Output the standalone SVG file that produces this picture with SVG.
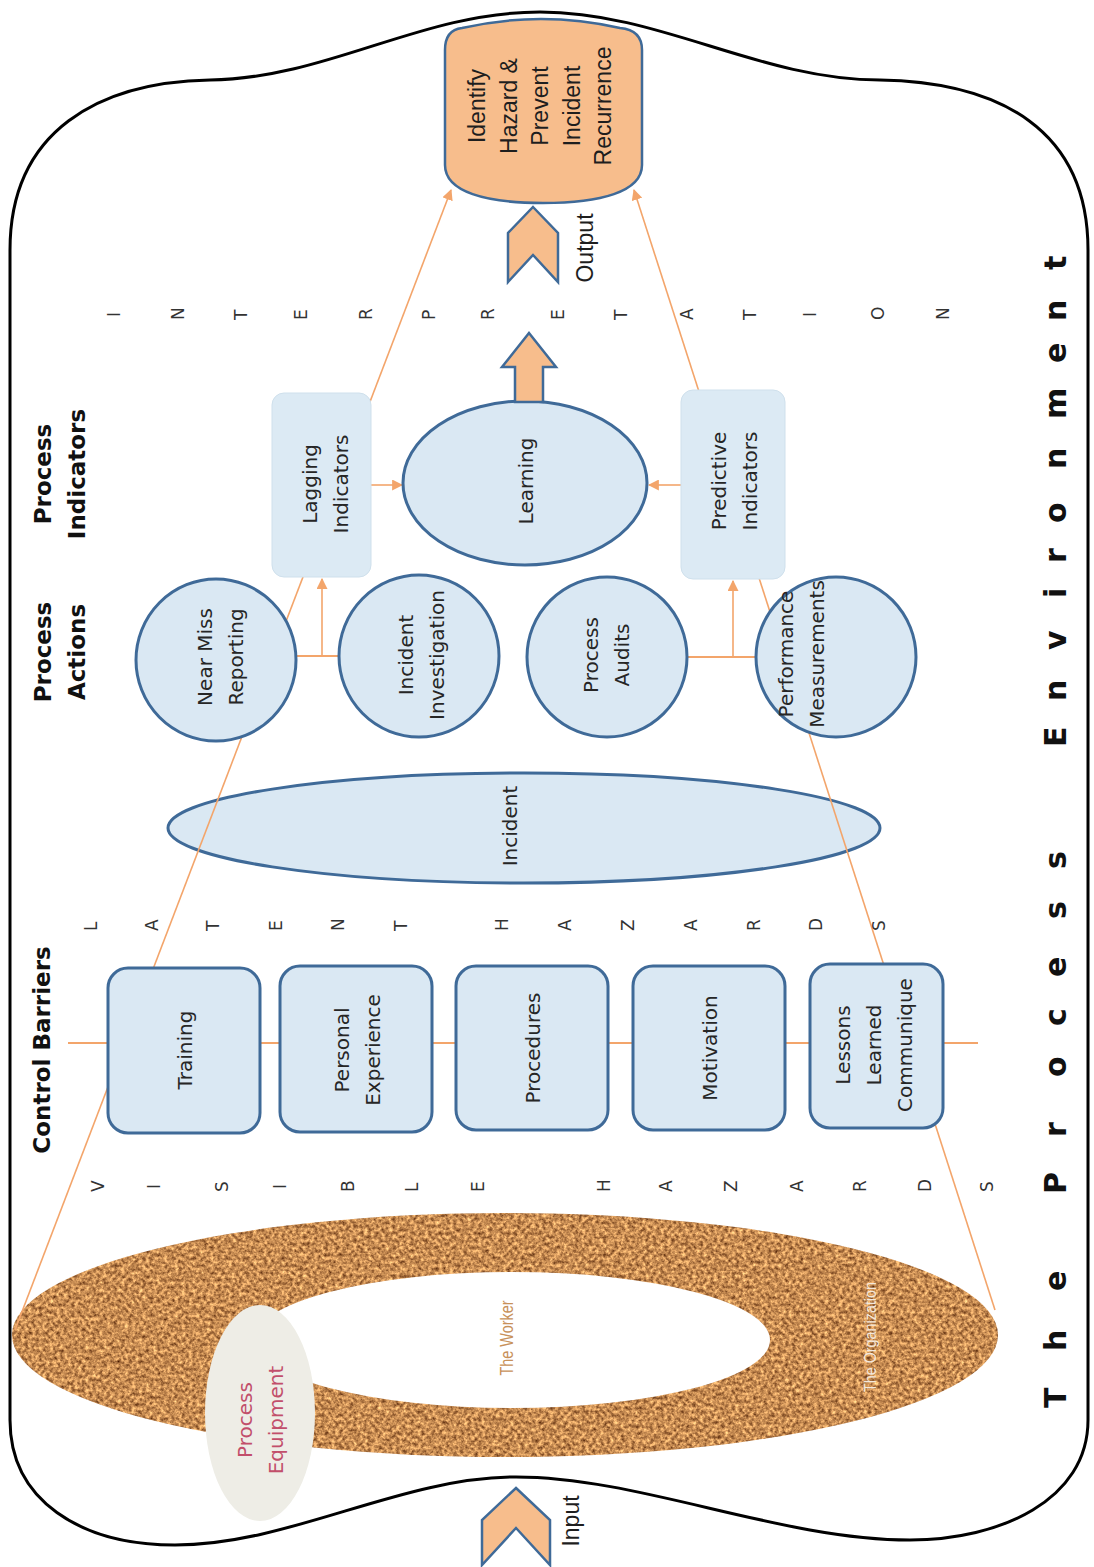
<svg xmlns="http://www.w3.org/2000/svg" width="1094" height="1567" viewBox="0 0 1094 1567">
  <style>
    .node { fill: #DAE8F3; stroke: #3F6A98; stroke-width: 3; }
    .ind { fill: #DCEAF4; stroke: #CFE0EC; stroke-width: 1; }
    .org { fill: #F7BD8C; stroke: #3F6A98; stroke-width: 2.5; stroke-linejoin: miter; }
    .lbl { font-family: "DejaVu Sans", Verdana, sans-serif; font-size: 20px; fill: #262626; text-anchor: middle; }
    .hd { font-family: "DejaVu Sans", Verdana, sans-serif; font-size: 23px; font-weight: bold; fill: #111; text-anchor: middle; }
    .cal { font-family: "Liberation Sans", Arial, sans-serif; font-size: 23px; fill: #1e1e1e; text-anchor: middle; }
    .ltr { font-family: "DejaVu Sans", Verdana, sans-serif; font-size: 17px; fill: #333; }
    .env { font-family: "DejaVu Sans", Verdana, sans-serif; font-size: 30px; font-weight: bold; fill: #111; }
    .wire { stroke: #F3A56B; stroke-width: 1.6; fill: none; }
    .bar { stroke: #F3A56B; stroke-width: 2.2; fill: none; }
  </style>
  <defs>
    <marker id="ah" viewBox="0 0 10 10" refX="9" refY="5" markerWidth="11" markerHeight="11" markerUnits="userSpaceOnUse" orient="auto">
      <path d="M0,0 L10,5 L0,10 z" fill="#F3A56B"/>
    </marker>
    <!-- speckled cork look for the organisation ring -->
    <filter id="cork" x="0" y="0" width="100%" height="100%" color-interpolation-filters="sRGB">
      <feTurbulence type="fractalNoise" baseFrequency="0.28" numOctaves="4" seed="7" result="n"/>
      <feColorMatrix in="n" type="matrix" values="1.0 0 0 0 0.28  0.9 0 0 0 0.1  0.65 0 0 0 0.0  0 0 0 0 1" result="c"/>
      <feComposite in="c" in2="SourceAlpha" operator="in"/>
    </filter>
  </defs>

  <rect width="1094" height="1567" fill="#ffffff"/>

  <!-- process environment boundary -->
  <g id="environment">
    <path d="M10,250 C10,130 100,82 210,80 C330,78 420,12 540,12 C660,12 760,80 880,80 C1000,82 1088,130 1088,250 L1088,1420 C1088,1500 1000,1540 910,1540 C780,1540 640,1477 516,1477 C400,1477 290,1545 175,1545 C80,1545 10,1500 10,1420 Z" fill="none" stroke="#000" stroke-width="3"/>
  </g>

  <!-- organisation / worker ring -->
  <g id="organization">
    <path d="M12,1335 a493,122 0 1,0 986,0 a493,122 0 1,0 -986,0 Z M254,1340 a258,68 0 1,0 516,0 a258,68 0 1,0 -516,0 Z" fill="#C8915C" fill-rule="evenodd" filter="url(#cork)"/>
    <text transform="translate(507,1338) rotate(-90)" text-anchor="middle" y="6" font-family="Liberation Sans, Arial, sans-serif" font-size="18" fill="#C8915A" textLength="75" lengthAdjust="spacingAndGlyphs">The Worker</text>
    <text transform="translate(870,1337) rotate(-90)" text-anchor="middle" y="6" font-family="Liberation Sans, Arial, sans-serif" font-size="17" fill="#F3E8DC" textLength="110" lengthAdjust="spacingAndGlyphs">The Organization</text>
  </g>

  <g id="process-equipment">
    <ellipse cx="260" cy="1413" rx="55" ry="108" fill="#EEEDE6"/>
    <text transform="translate(260,1420) rotate(-90)" text-anchor="middle" font-family="DejaVu Sans, Verdana, sans-serif" font-size="20" fill="#C24F6B"><tspan x="0" y="-8.5">Process</tspan><tspan x="0" y="22.5">Equipment</tspan></text>
  </g>

  <g id="incident">
    <ellipse class="node" cx="524" cy="828" rx="356" ry="55"/>
    <text class="lbl" transform="translate(510,826) rotate(-90)" y="7">Incident</text>
  </g>

  <!-- connectors -->
  <g id="connectors">
    <line class="wire" x1="15" y1="1330" x2="451" y2="190" marker-end="url(#ah)"/>
    <line class="wire" x1="995" y1="1310" x2="634" y2="190" marker-end="url(#ah)"/>
    <line class="bar" x1="68" y1="1043" x2="978" y2="1043"/>
    <line class="bar" x1="295" y1="656" x2="340" y2="656"/>
    <line class="wire" x1="322" y1="656" x2="322" y2="579" marker-end="url(#ah)"/>
    <line class="bar" x1="686" y1="657" x2="757" y2="657"/>
    <line class="wire" x1="733" y1="657" x2="733" y2="581" marker-end="url(#ah)"/>
    <line class="wire" x1="371" y1="485" x2="402" y2="485" marker-end="url(#ah)"/>
    <line class="wire" x1="681" y1="485" x2="649" y2="485" marker-end="url(#ah)"/>
  </g>

  <!-- control barriers -->
  <g id="training">
    <rect class="node" x="108" y="968" width="152" height="165" rx="20"/>
    <text class="lbl" transform="translate(185,1050) rotate(-90)" y="7">Training</text>
  </g>
  <g id="personal-experience">
    <rect class="node" x="280" y="966" width="152" height="166" rx="20"/>
    <text class="lbl" transform="translate(357,1050) rotate(-90)"><tspan x="0" y="-8.5">Personal</tspan><tspan x="0" y="22.5">Experience</tspan></text>
  </g>
  <g id="procedures">
    <rect class="node" x="456" y="966" width="152" height="164" rx="20"/>
    <text class="lbl" transform="translate(533,1048) rotate(-90)" y="7">Procedures</text>
  </g>
  <g id="motivation">
    <rect class="node" x="633" y="966" width="152" height="164" rx="20"/>
    <text class="lbl" transform="translate(710,1048) rotate(-90)" y="7">Motivation</text>
  </g>
  <g id="lessons-learned">
    <rect class="node" x="810" y="964" width="133" height="164" rx="20"/>
    <text class="lbl" transform="translate(874,1045) rotate(-90)"><tspan x="0" y="-24">Lessons</tspan><tspan x="0" y="7">Learned</tspan><tspan x="0" y="38">Communique</tspan></text>
  </g>

  <!-- process actions -->
  <g id="near-miss">
    <ellipse class="node" cx="216" cy="660" rx="80" ry="81"/>
    <text class="lbl" transform="translate(220,657) rotate(-90)"><tspan x="0" y="-8.5">Near Miss</tspan><tspan x="0" y="22.5">Reporting</tspan></text>
  </g>
  <g id="incident-investigation">
    <ellipse class="node" cx="419" cy="656" rx="80" ry="81"/>
    <text class="lbl" transform="translate(421,655) rotate(-90)"><tspan x="0" y="-8.5">Incident</tspan><tspan x="0" y="22.5">Investigation</tspan></text>
  </g>
  <g id="process-audits">
    <ellipse class="node" cx="607" cy="657" rx="80" ry="80"/>
    <text class="lbl" transform="translate(606,655) rotate(-90)"><tspan x="0" y="-8.5">Process</tspan><tspan x="0" y="22.5">Audits</tspan></text>
  </g>
  <g id="performance">
    <ellipse class="node" cx="836" cy="657" rx="80" ry="80"/>
    <text class="lbl" transform="translate(801,654) rotate(-90)"><tspan x="0" y="-8.5">Performance</tspan><tspan x="0" y="22.5">Measurements</tspan></text>
  </g>

  <!-- process indicators -->
  <g id="lagging">
    <rect class="ind" x="272" y="393" width="99" height="184" rx="12"/>
    <text class="lbl" transform="translate(325,484) rotate(-90)"><tspan x="0" y="-8.5">Lagging</tspan><tspan x="0" y="22.5">Indicators</tspan></text>
  </g>
  <g id="predictive">
    <rect class="ind" x="681" y="390" width="104" height="189" rx="12"/>
    <text class="lbl" transform="translate(734,481) rotate(-90)"><tspan x="0" y="-8.5">Predictive</tspan><tspan x="0" y="22.5">Indicators</tspan></text>
  </g>
  <g id="learning">
    <ellipse class="node" cx="525" cy="483" rx="122" ry="82"/>
    <text class="lbl" transform="translate(526,481) rotate(-90)" y="7">Learning</text>
  </g>
  <g id="learning-arrow">
    <polygon class="org" points="529,333 556,367 543,367 543,402 515,402 515,367 502,367"/>
  </g>

  <!-- output -->
  <g id="outcome">
    <path class="org" d="M445,50 Q445,30 462,28 Q541,10 620,28 Q642,30 642,50 L642,165 C642,192 600,203 543,203 C486,203 445,192 445,165 Z"/>
    <text class="cal" transform="translate(540,106) rotate(-90)"><tspan x="0" y="-55">Identify</tspan><tspan x="0" y="-23.5">Hazard &amp;</tspan><tspan x="0" y="8">Prevent</tspan><tspan x="0" y="39.5">Incident</tspan><tspan x="0" y="71">Recurrence</tspan></text>
  </g>
  <g id="output-arrow">
    <polygon class="org" points="533,207 558,233 558,282 533,255 508,282 508,233"/>
    <text class="cal" transform="translate(585,248) rotate(-90)" y="8">Output</text>
  </g>
  <g id="input-arrow">
    <polygon class="org" points="516,1488 550,1520 550,1565 516,1528 482,1565 482,1520"/>
    <text class="cal" transform="translate(571,1521) rotate(-90)" y="8">Input</text>
  </g>

  <!-- column headings -->
  <g id="headings">
    <text class="hd" transform="translate(60,474) rotate(-90)"><tspan x="0" y="-9">Process</tspan><tspan x="0" y="25">Indicators</tspan></text>
    <text class="hd" transform="translate(60,652) rotate(-90)"><tspan x="0" y="-9">Process</tspan><tspan x="0" y="25">Actions</tspan></text>
    <text class="hd" transform="translate(42,1050) rotate(-90)" y="8">Control Barriers</text>
  </g>

  <!-- spaced letter rows -->
  <g id="letter-rows">
    <text class="ltr" rotate="-90" x="120 184 247 307 372 435 494 564 627 693 756 816 884 949" y="317 320 320 320 320 320 320 320 320 320 320 317 320 320">INTERPRETATION</text>
    <text class="ltr" rotate="-90" x="97 158 219 282 344 407 508 571 634 697 760 822 885" y="931 931 931 931 931 931 931 931 931 931 931 931 931">LATENTHAZARDS</text>
    <text class="ltr" rotate="-90" x="104 160 228 286 354 418 484 610 672 737 803 866 931 993" y="1192 1189 1192 1189 1192 1192 1192 1192 1192 1192 1192 1192 1192 1192">VISIBLEHAZARDS</text>
  </g>

  <g id="environment-title">
    <text class="env" rotate="-90" x="1066 1066 1066 1066 1066 1066 1066 1066 1066 1066 1066 1066 1066 1066 1066 1066 1066 1066 1066 1066 1066" y="1408 1351 1291 1194 1137 1077 1026 977 919 869 747 701 650 598 563 523 469 419 363 321 270">TheProcessEnvironment</text>
  </g>
</svg>
